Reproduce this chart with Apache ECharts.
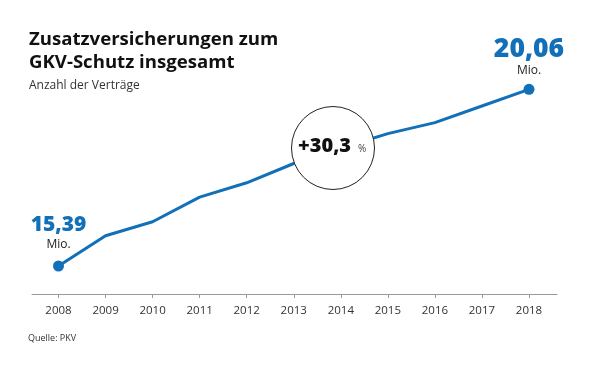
<!DOCTYPE html>
<html>
<head>
<meta charset="utf-8">
<script src="https://cdn.jsdelivr.net/npm/echarts@6/dist/echarts.min.js"></script>
<style>
html,body{margin:0;padding:0;background:#fff;}
#chart{width:600px;height:367px;}
</style>
</head>
<body>
<div id="chart"></div>
<script>
const years = ['2008','2009','2010','2011','2012','2013','2014','2015','2016','2017','2018'];
const contracts = [15.39, 16.19, 16.56, 17.21, 17.59, 18.10, 18.51, 18.89, 19.18, 19.62, 20.06];
const titleText = 'Zusatzversicherungen zum\nGKV-Schutz insgesamt';
const subtitleText = 'Anzahl der Verträge';
const sourceText = 'Quelle: PKV';
const growthText = '+30,3';
const unitText = 'Mio.';

const BLUE = '#1170b8';
const FONT = 'Open Sans';

function fmt(v){ return v.toFixed(2).replace('.', ','); }

const seriesData = contracts.map(function(v, i){
  const item = { value: v };
  if (i === 0 || i === contracts.length - 1) {
    const big = i === contracts.length - 1;
    item.symbolSize = 11;
    item.label = {
      show: true,
      position: 'top',
      distance: big ? 6 : 9,
      formatter: '{v|' + fmt(v) + '}\n{u|' + unitText + '}',
      rich: {
        v: { fontFamily: FONT, fontWeight: 800, fontSize: big ? 26.5 : 21, color: BLUE, lineHeight: big ? 29 : 24, align: 'center' },
        u: { fontFamily: FONT, fontSize: 12, color: '#222', lineHeight: 14, align: 'center' }
      }
    };
  }
  return item;
});

const chart = echarts.init(document.getElementById('chart'));
chart.setOption({
  backgroundColor: '#fff',
  animation: false,
  title: [
    { text: titleText, left: 29, top: 28, padding: 0,
      textStyle: { fontFamily: FONT, fontWeight: 'bold', fontSize: 18.6, lineHeight: 23, color: '#111' } },
    { text: subtitleText, left: 29, top: 80, padding: 0,
      textStyle: { fontFamily: FONT, fontWeight: 'normal', fontSize: 12, color: '#333' } },
    { text: sourceText, left: 28, top: 334, padding: 0,
      textStyle: { fontFamily: FONT, fontWeight: 'normal', fontSize: 9, color: '#333' } }
  ],
  grid: [
    { left: 58.5, right: 71, top: 50, bottom: 73 },
    { left: 32, right: 43, top: 50, bottom: 73 }
  ],
  xAxis: [
    { type: 'category', gridIndex: 0, data: years, boundaryGap: false,
      axisLine: { show: false },
      axisTick: { show: true, length: 4, lineStyle: { color: '#999', width: 1 } },
      axisLabel: { fontFamily: FONT, fontSize: 11.5, color: '#333', margin: 11 },
      splitLine: { show: false } },
    { type: 'value', gridIndex: 1, min: 0, max: 1,
      axisLine: { show: true, lineStyle: { color: '#999', width: 1 } },
      axisTick: { show: false }, axisLabel: { show: false }, splitLine: { show: false } }
  ],
  yAxis: [
    { type: 'value', gridIndex: 0, min: 14.65, max: 21.1, show: false },
    { type: 'value', gridIndex: 1, min: 0, max: 1, show: false }
  ],
  series: [
    { type: 'line', xAxisIndex: 0, yAxisIndex: 0, data: seriesData,
      symbol: 'circle', showSymbol: true, symbolSize: 0,
      lineStyle: { color: BLUE, width: 3 },
      itemStyle: { color: BLUE },
      z: 2 }
  ],
  graphic: [
    { type: 'circle', left: 291, top: 106, z: 100, shape: { r: 41.5 },
      style: { fill: '#fff', stroke: '#222', lineWidth: 1 } },
    { type: 'text', left: 298, top: 136, z: 101,
      style: { text: growthText, font: '800 20px "Open Sans"', fill: '#111' } },
    { type: 'text', left: 358, top: 144, z: 101,
      style: { text: '%', font: '10px "Open Sans"', fill: '#444' } }
  ]
});
</script>
</body>
</html>
